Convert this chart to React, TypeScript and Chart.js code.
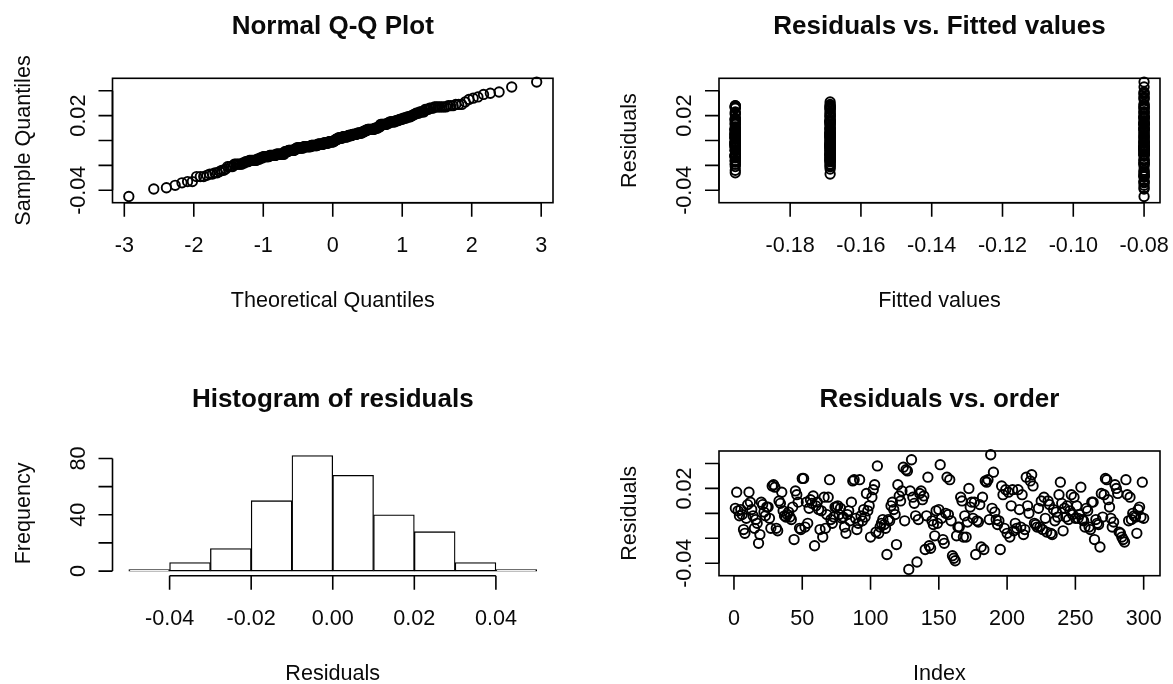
import React, { useEffect, useRef } from "react";
import { Chart, registerables } from "chart.js";
Chart.register(...registerables);

// ---------------- data ----------------
const residuals: number[] = [
  0.004, 0.017, 0.002, -0.002, 0.003, -0.001, -0.013, -0.016, -0.004, 0.007,
  0.017, 0.009, 0.003, -0.002, -0.012, -0.005, -0.008, -0.024, -0.017, 0.009,
  0.007, 0.001, -0.002, 0.005, 0.005, -0.004, -0.012, 0.022, 0.023, 0.021,
  -0.012, -0.014, 0.010, 0.008, 0.017, 0.002, -0.002, -0.003, -0.001, 0.001,
  -0.003, -0.005, 0.005, -0.021, 0.018, 0.015, 0.009, -0.012, -0.013, 0.028,
  0.028, -0.011, 0.009, -0.008, 0.004, 0.011, 0.008, 0.014, -0.026, 0.006,
  0.009, 0.003, -0.013, 0.002, -0.019, 0.013, -0.012, -0.001, 0.013, 0.027,
  -0.005, -0.008, -0.003, 0.005, 0.005, 0.006, -0.001, 0.004, -0.004, -0.003,
  -0.011, -0.016, -0.001, 0.002, -0.006, 0.009, 0.026, 0.027, -0.004, -0.013,
  -0.008, 0.027, -0.002, -0.006, 0.003, -0.003, 0.016, 0.002, 0.006, -0.019,
  0.013, 0.019, 0.023, -0.015, 0.038, -0.016, -0.011, -0.008, -0.005, -0.009,
  -0.012, -0.033, -0.005, -0.006, 0.006, 0.009, 0.003, -0.001, -0.025, 0.023,
  0.014, 0.010, 0.018, 0.037, -0.006, 0.035, 0.034, -0.045, 0.018, 0.043,
  0.013, 0.008, -0.002, -0.039, -0.005, 0.016, 0.018, 0.011, 0.014, -0.029,
  -0.002, 0.029, -0.026, -0.028, -0.006, -0.009, -0.018, 0.002, -0.008, 0.003,
  0.039, -0.004, -0.021, -0.024, 0.000, 0.029, -0.001, 0.027, -0.006, -0.034,
  -0.036, -0.038, -0.018, -0.011, -0.011, 0.013, 0.010, -0.019, -0.002, -0.019,
  -0.007, 0.020, 0.005, 0.009, -0.004, 0.009, -0.033, -0.006, -0.007, 0.007,
  -0.027, 0.013, -0.029, 0.026, 0.025, 0.027, -0.005, 0.047, 0.004, 0.033,
  0.001, -0.005, -0.009, -0.006, -0.029, 0.022, 0.015, -0.012, 0.019, -0.016,
  0.017, -0.019, 0.006, 0.019, -0.014, -0.008, -0.012, 0.019, 0.003, -0.011,
  0.015, -0.017, -0.013, 0.029, 0.006, 0.000, 0.026, 0.031, 0.022, -0.008,
  -0.009, -0.011, 0.004, -0.011, 0.010, -0.013, 0.013, -0.004, -0.015, 0.010,
  0.007, -0.016, -0.017, 0.003, -0.006, 0.001, -0.003, 0.015, 0.025, 0.008,
  -0.014, 0.004, -0.003, 0.006, -0.005, 0.002, 0.015, -0.001, 0.013, -0.004,
  0.006, -0.004, -0.001, 0.021, -0.005, -0.006, -0.011, 0.004, 0.002, -0.011,
  -0.013, 0.009, 0.009, -0.021, -0.005, -0.008, -0.009, -0.027, 0.016, -0.003,
  0.015, 0.028, 0.027, 0.011, 0.005, -0.004, -0.011, -0.007, 0.023, 0.020,
  0.016, -0.015, -0.016, -0.019, -0.021, -0.023, 0.027, 0.015, -0.006, 0.013,
  -0.005, 0.000, -0.002, -0.003, -0.016, 0.003, 0.005, -0.003, 0.025, -0.004,
];

const fittedLevels = [-0.1955, -0.08, -0.1687];
const fittedBlockSizes = [100, 100, 100];

const histBreaks = [-0.05, -0.04, -0.03, -0.02, -0.01, 0, 0.01, 0.02, 0.03, 0.04, 0.05];
const histCounts = [1, 6, 16, 50, 82, 68, 40, 28, 6, 1];

const qqXTicks = [-3, -2, -1, 0, 1, 2, 3];
const qqXLabels = ["-3", "-2", "-1", "0", "1", "2", "3"];
const fittedXTicks = [-0.18, -0.16, -0.14, -0.12, -0.1, -0.08];
const fittedXLabels = ["-0.18", "-0.16", "-0.14", "-0.12", "-0.10", "-0.08"];
const histXTicks = [-0.04, -0.02, 0, 0.02, 0.04];
const histXLabels = ["-0.04", "-0.02", "0.00", "0.02", "0.04"];
const indexXTicks = [0, 50, 100, 150, 200, 250, 300];
const indexXLabels = ["0", "50", "100", "150", "200", "250", "300"];
const residYTicks = [-0.04, -0.02, 0, 0.02, 0.04];
const residYLabels = ["-0.04", "", "", "0.02", ""];
const freqYTicks = [0, 20, 40, 60, 80];
const freqYLabels = ["0", "", "40", "", "80"];

const panelTitles = ["Normal Q-Q Plot", "Residuals vs. Fitted values", "Histogram of residuals", "Residuals vs. order"];
const xTitles = ["Theoretical Quantiles", "Fitted values", "Residuals", "Index"];
const yTitles = ["Sample Quantiles", "Residuals", "Frequency", "Residuals"];

// ---------------- helpers ----------------
function qnorm(p: number): number {
  const a = [-3.969683028665376e1, 2.209460984245205e2, -2.759285104469687e2, 1.38357751867269e2, -3.066479806614716e1, 2.506628277459239];
  const b = [-5.447609879822406e1, 1.615858368580409e2, -1.556989798598866e2, 6.680131188771972e1, -1.328068155288572e1];
  const c = [-7.784894002430293e-3, -3.223964580411365e-1, -2.400758277161838, -2.549732539343734, 4.374664141464968, 2.938163982698783];
  const d = [7.784695709041462e-3, 3.224671290700398e-1, 2.445134137142996, 3.754408661907416];
  const pl = 0.02425;
  if (p < pl) {
    const q = Math.sqrt(-2 * Math.log(p));
    return (((((c[0] * q + c[1]) * q + c[2]) * q + c[3]) * q + c[4]) * q + c[5]) / ((((d[0] * q + d[1]) * q + d[2]) * q + d[3]) * q + 1);
  }
  if (p > 1 - pl) {
    const q = Math.sqrt(-2 * Math.log(1 - p));
    return -(((((c[0] * q + c[1]) * q + c[2]) * q + c[3]) * q + c[4]) * q + c[5]) / ((((d[0] * q + d[1]) * q + d[2]) * q + d[3]) * q + 1);
  }
  const q = p - 0.5;
  const r = q * q;
  return ((((((a[0] * r + a[1]) * r + a[2]) * r + a[3]) * r + a[4]) * r + a[5]) * q) / (((((b[0] * r + b[1]) * r + b[2]) * r + b[3]) * r + b[4]) * r + 1);
}

const W = 1173;
const H = 684;
const FONT = '"Liberation Sans", Arial, Helvetica, sans-serif';
const LABEL_FONT = `21.6px ${FONT}`;
const TITLE_FONT = `bold 26px ${FONT}`;
const TICK = 14;
const LW = 1.6;

type Spec = {
  area: { l: number; t: number; r: number; b: number };
  xMin: number; xMax: number; yMin: number; yMax: number;
  box: boolean;
  xTicks: number[]; xLabels: string[];
  yTicks: number[]; yLabels: string[];
  title: string; xTitle: string; yTitle: string;
  kind: "scatter" | "bar";
  data: { x: number; y: number }[];
};

function drawText(ctx: CanvasRenderingContext2D, s: string, x: number, y: number, font: string, rot = false) {
  ctx.save();
  ctx.translate(x, y);
  if (rot) ctx.rotate(-Math.PI / 2);
  ctx.font = font;
  ctx.textAlign = "center";
  ctx.textBaseline = "alphabetic";
  ctx.fillText(s, 0, 0);
  ctx.restore();
}

function makePlugin(spec: Spec) {
  return {
    id: "rframe",
    afterDraw(chart: any) {
      const ctx: CanvasRenderingContext2D = chart.ctx;
      const a = chart.chartArea;
      const xs = chart.scales.x;
      const ys = chart.scales.y;
      ctx.save();
      ctx.strokeStyle = "#000";
      ctx.fillStyle = "#0a0a0a";
      ctx.lineWidth = LW;
      if (spec.box) ctx.strokeRect(a.left, a.top, a.right - a.left, a.bottom - a.top);
      const xp = spec.xTicks.map((v) => xs.getPixelForValue(v));
      const yp = spec.yTicks.map((v) => ys.getPixelForValue(v));
      ctx.beginPath();
      ctx.moveTo(xp[0], a.bottom);
      ctx.lineTo(xp[xp.length - 1], a.bottom);
      xp.forEach((p) => {
        ctx.moveTo(p, a.bottom);
        ctx.lineTo(p, a.bottom + TICK);
      });
      ctx.moveTo(a.left, yp[0]);
      ctx.lineTo(a.left, yp[yp.length - 1]);
      yp.forEach((p) => {
        ctx.moveTo(a.left, p);
        ctx.lineTo(a.left - TICK, p);
      });
      ctx.stroke();
      xp.forEach((p, i) => drawText(ctx, spec.xLabels[i], p, a.bottom + 49.5, LABEL_FONT));
      yp.forEach((p, i) => {
        if (spec.yLabels[i]) drawText(ctx, spec.yLabels[i], a.left - 28, p, LABEL_FONT, true);
      });
      const cx = (a.left + a.right) / 2;
      const cy = (a.top + a.bottom) / 2;
      drawText(ctx, spec.title, cx, a.top - 44.3, TITLE_FONT);
      drawText(ctx, spec.xTitle, cx, a.bottom + 104, LABEL_FONT);
      drawText(ctx, spec.yTitle, a.left - 83, cy, LABEL_FONT, true);
      ctx.restore();
    },
  };
}

function buildSpecs(): Spec[] {
  const n = residuals.length;
  const sorted = [...residuals].sort((p, q) => p - q);
  const qqData = sorted.map((v, i) => ({ x: qnorm((i + 1 - 0.5) / n), y: v }));
  const fitted: number[] = [];
  fittedLevels.forEach((lv, k) => {
    for (let j = 0; j < fittedBlockSizes[k]; j++) fitted.push(lv);
  });
  const fitData = residuals.map((v, i) => ({ x: fitted[i], y: v }));
  const idxData = residuals.map((v, i) => ({ x: i + 1, y: v }));
  const histData = histCounts.map((c, i) => ({ x: (histBreaks[i] + histBreaks[i + 1]) / 2, y: c }));

  const top = { t: 78.3, b: 202.7 };
  const bot = { t: 451, b: 575.7 };
  const left = { l: 112.5, r: 553 };
  const right = { l: 719, r: 1160 };

  return [
    {
      area: { ...left, ...top }, xMin: -3.17, xMax: 3.17, yMin: -0.05, yMax: 0.05, box: true,
      xTicks: qqXTicks, xLabels: qqXLabels, yTicks: residYTicks, yLabels: residYLabels,
      title: panelTitles[0], xTitle: xTitles[0], yTitle: yTitles[0], kind: "scatter", data: qqData,
    },
    {
      area: { ...right, ...top }, xMin: -0.2001, xMax: -0.0755, yMin: -0.05, yMax: 0.05, box: true,
      xTicks: fittedXTicks, xLabels: fittedXLabels, yTicks: residYTicks, yLabels: residYLabels,
      title: panelTitles[1], xTitle: xTitles[1], yTitle: yTitles[1], kind: "scatter", data: fitData,
    },
    {
      area: { ...left, ...bot }, xMin: -0.054, xMax: 0.054, yMin: -3.28, yMax: 85.28, box: false,
      xTicks: histXTicks, xLabels: histXLabels, yTicks: freqYTicks, yLabels: freqYLabels,
      title: panelTitles[2], xTitle: xTitles[2], yTitle: yTitles[2], kind: "bar", data: histData,
    },
    {
      area: { ...right, ...bot }, xMin: -10.96, xMax: 311.96, yMin: -0.05, yMax: 0.05, box: true,
      xTicks: indexXTicks, xLabels: indexXLabels, yTicks: residYTicks, yLabels: residYLabels,
      title: panelTitles[3], xTitle: xTitles[3], yTitle: yTitles[3], kind: "scatter", data: idxData,
    },
  ];
}

function Panel({ spec }: { spec: Spec }) {
  const ref = useRef<HTMLCanvasElement | null>(null);
  useEffect(() => {
    if (!ref.current) return;
    const a = spec.area;
    const dataset: any =
      spec.kind === "scatter"
        ? {
            data: spec.data,
            pointStyle: "circle",
            pointRadius: 4.7,
            pointBorderWidth: 1.9,
            pointBorderColor: "#000",
            pointBackgroundColor: "rgba(0,0,0,0)",
            showLine: false,
            clip: false,
          }
        : {
            data: spec.data,
            backgroundColor: "#fff",
            borderColor: "#000",
            borderWidth: 1.3,
            borderSkipped: false,
            barPercentage: 1,
            categoryPercentage: 1,
          };
    const chart = new Chart(ref.current, {
      type: spec.kind,
      data: { datasets: [dataset] },
      options: {
        animation: false,
        responsive: false,
        maintainAspectRatio: false,
        events: [],
        layout: { padding: { left: a.l, top: a.t, right: W - a.r, bottom: H - a.b } },
        plugins: { legend: { display: false }, tooltip: { enabled: false }, title: { display: false } },
        scales: {
          x: { type: "linear", display: false, min: spec.xMin, max: spec.xMax, offset: false },
          y: { type: "linear", display: false, min: spec.yMin, max: spec.yMax },
        },
      } as any,
      plugins: [makePlugin(spec)],
    });
    return () => chart.destroy();
  }, [spec]);
  return (
    <canvas
      ref={ref}
      width={W}
      height={H}
      style={{ position: "absolute", left: 0, top: 0, width: W, height: H, display: "block" }}
    />
  );
}

const specs = buildSpecs();

export default function App() {
  return (
    <div style={{ position: "absolute", left: 0, top: 0, width: W, height: H, background: "#fff", overflow: "hidden" }}>
      {specs.map((s, i) => (
        <Panel key={i} spec={s} />
      ))}
    </div>
  );
}
